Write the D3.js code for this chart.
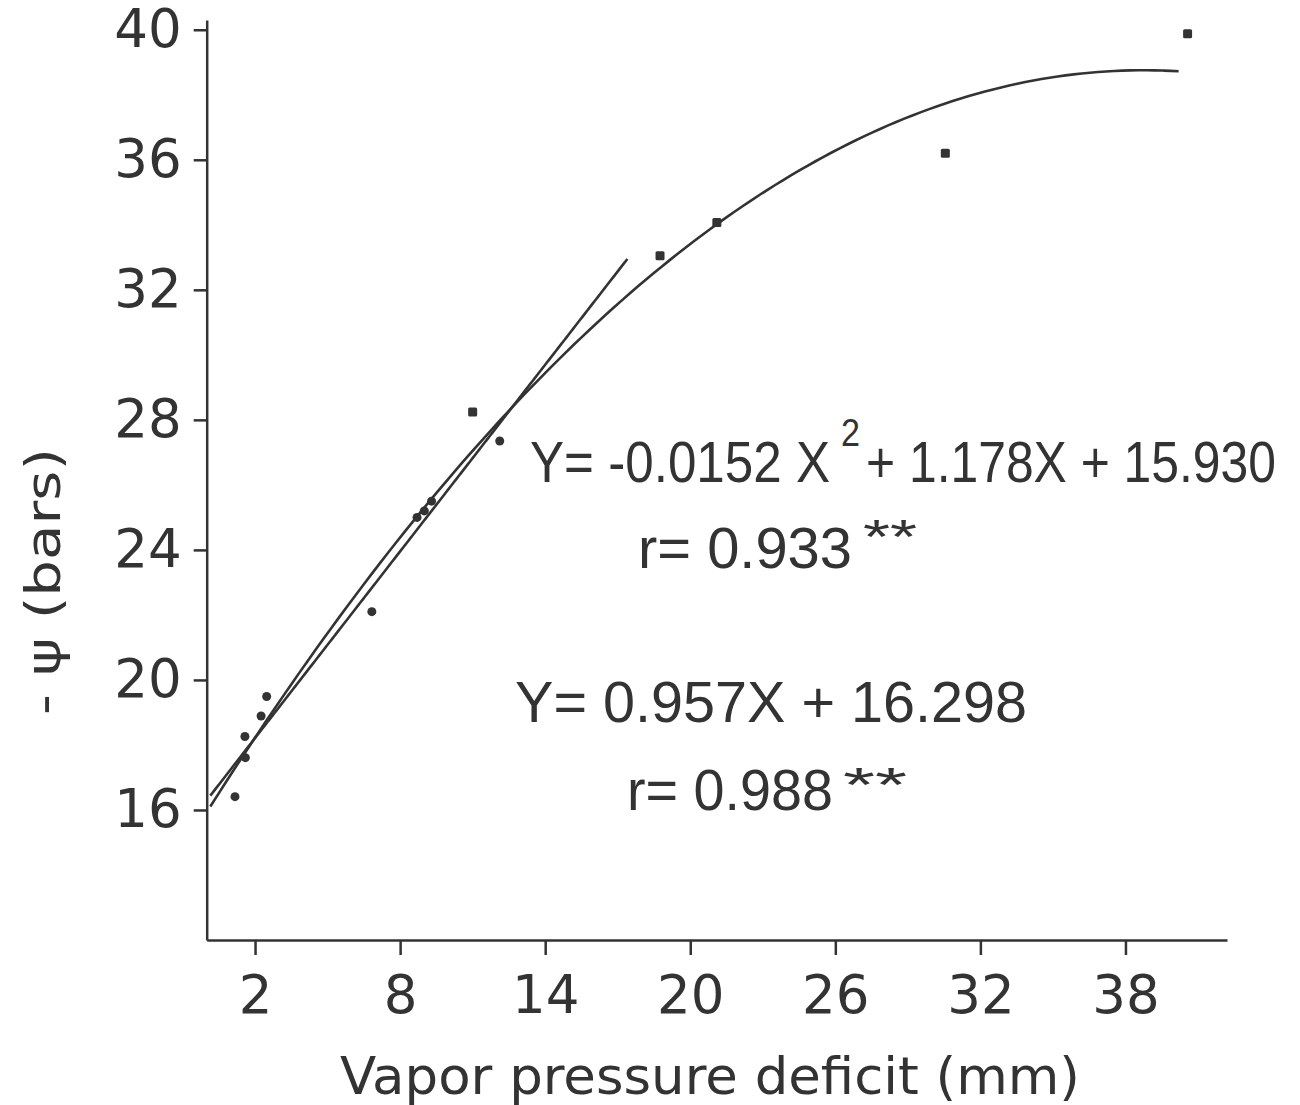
<!DOCTYPE html>
<html>
<head>
<meta charset="utf-8">
<script src="https://cdn.jsdelivr.net/npm/d3@7"></script>
<style>
  body { margin: 0; background: #fff; }
  text { font-family: "DejaVu Sans", sans-serif; fill: #333; }
  text.eq { font-family: "Liberation Sans", "DejaVu Sans", sans-serif; }
</style>
</head>
<body>
<script>
var circleX = [1.17, 1.6, 1.58, 2.25, 2.48, 6.83, 8.7, 9.0, 9.3, 12.12];
var circleY = [16.41, 17.61, 18.26, 18.89, 19.49, 22.1, 25.0, 25.2, 25.5, 27.35];
var squareX = [11.0, 18.75, 21.1, 30.55, 40.57];
var squareY = [28.24, 33.05, 34.07, 36.2, 39.88];

// fitted equations printed on the chart
var quadCoef = [15.930, 1.178, -0.0152];   // a + bX + cX^2
var quadRange = [0.15, 40.2];
var linCoef = [16.298, 0.957];
var linRange = [0.15, 17.4];

var xTicks = [2, 8, 14, 20, 26, 32, 38];
var yTicks = [16, 20, 24, 28, 32, 36, 40];

var W = 1300, H = 1105;
var ink = "#333";

var svg = d3.select("body").append("svg")
  .attr("width", W)
  .attr("height", H);

var x = d3.scaleLinear().domain([0, 42.2]).range([206.7, 1227]);
var y = d3.scaleLinear().domain([12, 40.3]).range([940, 20]);

// axes
var xAxis = svg.append("g")
  .attr("transform", "translate(0,940)")
  .call(d3.axisBottom(x).tickValues(xTicks).tickSize(15).tickPadding(20).tickSizeOuter(0));
var yAxis = svg.append("g")
  .attr("transform", "translate(206.7,0)")
  .call(d3.axisLeft(y).tickValues(yTicks).tickSize(13).tickPadding(12).tickSizeOuter(0));

[xAxis, yAxis].forEach(function(g) {
  g.select(".domain").attr("stroke", ink).attr("stroke-width", 2.5);
  g.selectAll(".tick line").attr("stroke", ink).attr("stroke-width", 2.5);
  g.selectAll(".tick text")
    .attr("font-size", 53)
    .attr("font-family", "DejaVu Sans")
    .attr("fill", ink);
});

// fitted curves
function sample(range, f) {
  var pts = [];
  var n = 120;
  for (var i = 0; i <= n; i++) {
    var xv = range[0] + (range[1] - range[0]) * i / n;
    pts.push([xv, f(xv)]);
  }
  return pts;
}
var quad = sample(quadRange, function(v) { return quadCoef[0] + quadCoef[1]*v + quadCoef[2]*v*v; });
var lin = sample(linRange, function(v) { return linCoef[0] + linCoef[1]*v; });

var line = d3.line()
  .x(function(d) { return x(d[0]); })
  .y(function(d) { return y(d[1]); })
  .curve(d3.curveMonotoneX);

svg.append("path").datum(quad)
  .attr("d", line).attr("fill", "none").attr("stroke", ink).attr("stroke-width", 2.6);
svg.append("path").datum(lin)
  .attr("d", line).attr("fill", "none").attr("stroke", ink).attr("stroke-width", 2.6);

// markers
svg.selectAll("circle.pt")
  .data(d3.range(circleX.length))
  .enter()
  .append("circle")
  .attr("class", "pt")
  .attr("cx", function(i) { return x(circleX[i]); })
  .attr("cy", function(i) { return y(circleY[i]); })
  .attr("r", 4.5)
  .attr("fill", ink);

svg.selectAll("rect.pt")
  .data(d3.range(squareX.length))
  .enter()
  .append("rect")
  .attr("class", "pt")
  .attr("x", function(i) { return x(squareX[i]) - 4.5; })
  .attr("y", function(i) { return y(squareY[i]) - 4.5; })
  .attr("width", 9)
  .attr("height", 9)
  .attr("rx", 1.5)
  .attr("fill", ink);

// annotations
function label(txt, px, py, size, len) {
  var t = svg.append("text")
    .attr("class", "eq")
    .attr("x", px).attr("y", py)
    .attr("font-size", size)
    .text(txt);
  if (len) t.attr("textLength", len).attr("lengthAdjust", "spacingAndGlyphs");
  return t;
}

label("Y= -0.0152 X", 530, 482, 58, 300);
label("2", 841, 446, 38, 19);
label("+ 1.178X + 15.930", 866, 482, 58, 410);
label("r= 0.933", 638, 568, 58, 214);
label("**", 863, 553, 48, 54);

label("Y= 0.957X + 16.298", 515, 722, 58, 512);
label("r= 0.988", 627, 810, 58, 206);
label("**", 843, 801, 48, 64);

// axis titles
svg.append("text")
  .attr("x", 340).attr("y", 1094)
  .attr("font-size", 52)
  .attr("textLength", 740)
  .attr("lengthAdjust", "spacingAndGlyphs")
  .text("Vapor  pressure  deficit  (mm)");

svg.append("text")
  .attr("transform", "translate(60,715) rotate(-90)")
  .attr("font-size", 48)
  .attr("textLength", 267)
  .attr("lengthAdjust", "spacingAndGlyphs")
  .text("- ψ (bars)");
</script>
</body>
</html>
